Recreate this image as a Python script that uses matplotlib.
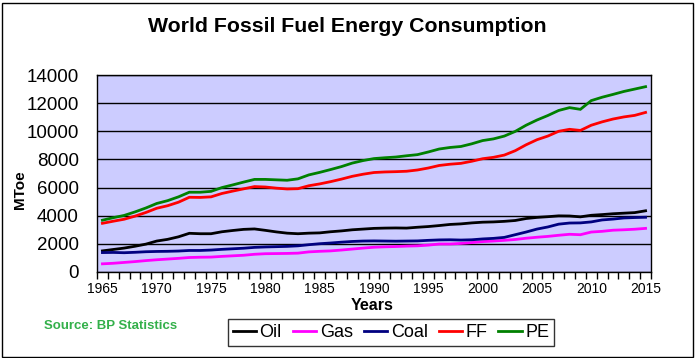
import matplotlib
matplotlib.use("Agg")
import matplotlib.pyplot as plt
from matplotlib.patches import Rectangle
from matplotlib.ticker import FixedLocator, NullFormatter
from matplotlib import font_manager

years = list(range(1965, 2016))

oil = [1500, 1600, 1700, 1830, 1980, 2200, 2320, 2500, 2750, 2720, 2720, 2860, 2950, 3030, 3060,
       2960, 2850, 2760, 2720, 2760, 2780, 2860, 2920, 3000, 3050, 3100, 3120, 3130, 3120, 3180,
       3230, 3300, 3380, 3420, 3490, 3540, 3560, 3600, 3660, 3800, 3880, 3930, 3990, 3980, 3920,
       4030, 4080, 4140, 4180, 4220, 4350]
gas = [580, 620, 680, 740, 810, 870, 920, 970, 1030, 1050, 1060, 1110, 1150, 1190, 1260,
       1300, 1310, 1320, 1340, 1430, 1470, 1500, 1560, 1630, 1700, 1760, 1790, 1810, 1840, 1860,
       1910, 1990, 1990, 2030, 2090, 2160, 2200, 2250, 2310, 2400, 2470, 2530, 2610, 2680, 2650,
       2840, 2890, 2970, 3000, 3040, 3100]
coal = [1380, 1390, 1370, 1400, 1440, 1460, 1470, 1490, 1530, 1530, 1560, 1610, 1650, 1690, 1750,
        1780, 1800, 1820, 1860, 1940, 2010, 2060, 2120, 2170, 2200, 2210, 2200, 2190, 2200, 2210,
        2250, 2280, 2290, 2270, 2290, 2350, 2390, 2460, 2650, 2840, 3050, 3200, 3400, 3480, 3490,
        3560, 3700, 3760, 3840, 3870, 3890]
ff = [3460, 3610, 3750, 3970, 4230, 4530, 4710, 4960, 5310, 5300, 5340, 5580, 5750, 5910, 6070,
      6040, 5960, 5900, 5920, 6130, 6260, 6420, 6600, 6800, 6950, 7070, 7110, 7130, 7160, 7250,
      7390, 7570, 7660, 7720, 7870, 8050, 8150, 8310, 8620, 9040, 9400, 9660, 10000, 10140, 10060,
      10430, 10670, 10870, 11020, 11130, 11340]
pe = [3680, 3860, 4020, 4270, 4550, 4870, 5070, 5340, 5670, 5670, 5730, 6000, 6190, 6390, 6580,
      6580, 6550, 6520, 6620, 6900, 7080, 7280, 7490, 7740, 7920, 8060, 8120, 8170, 8260, 8340,
      8530, 8740, 8850, 8920, 9110, 9340, 9460, 9660, 9990, 10430, 10800, 11120, 11480, 11680, 11560,
      12180, 12420, 12620, 12830, 13000, 13170]

series = [("Oil", oil, "black"), ("Gas", gas, "#ff00ff"), ("Coal", coal, "#000080"),
          ("FF", ff, "#ff0000"), ("PE", pe, "#008000")]

avail = {f.name for f in font_manager.fontManager.ttflist}
base = "Liberation Sans" if "Liberation Sans" in avail else "DejaVu Sans"
narrow = "Liberation Sans Narrow" if "Liberation Sans Narrow" in avail else base
plt.rcParams['font.family'] = [base, "DejaVu Sans"]

fig = plt.figure(figsize=(6.96, 3.58), dpi=100)
ax = fig.add_axes([97/696, (358-272)/358, 554/696, 197/358])
ax.set_facecolor("#ccccff")

for name, vals, col in series:
    ax.plot(years, vals, color=col, lw=2, label=name, solid_joinstyle='miter')

ax.set_xlim(1964.5, 2015.5)
ax.set_ylim(0, 14000)
ax.set_yticks(range(0, 14001, 2000))
ax.yaxis.grid(True, color="black", lw=1)
ax.set_axisbelow(True)
ax.tick_params(axis='y', length=0, labelsize=13.5, pad=13)

ax.set_xticks(list(range(1965, 2016, 5)))
ax.xaxis.set_minor_locator(FixedLocator([1964.5 + k for k in range(52)]))
ax.xaxis.set_minor_formatter(NullFormatter())
ax.tick_params(axis='x', which='major', length=0, labelsize=10, pad=7)
ax.tick_params(axis='x', which='minor', length=5, width=1, color='black')
for lab in ax.get_xticklabels():
    lab.set_family([narrow, "DejaVu Sans"])
for sp in ax.spines.values():
    sp.set_color("black")
    sp.set_linewidth(1)

fig.text(347/696, 1 - 27/358, "World Fossil Fuel Energy Consumption", ha='center', va='center',
         fontsize=15.3, fontweight='bold')
fig.text(20/696, 1 - 190/358, "MToe", rotation=90, ha='center', va='center',
         fontsize=11, fontweight='bold')
fig.text(372/696, 1 - 305/358, "Years", ha='center', va='center', fontsize=11.5, fontweight='bold')
fig.text(44/696, 1 - 326/358, "Source: BP Statistics", ha='left', va='center', fontsize=9.5,
         fontweight='bold', color="#33b04a", family=[narrow, "DejaVu Sans"])

leg = fig.legend(loc='center', bbox_to_anchor=(391/696, 1 - 332.5/358), ncol=5, frameon=True,
                 fancybox=False, edgecolor='black', fontsize=13, handlelength=1.3,
                 handletextpad=0.2, columnspacing=0.6, borderpad=0.25, borderaxespad=0)
leg.get_frame().set_linewidth(1)

fig.patches.append(Rectangle((2/696, 1.5/358), 691/696, 354/358, transform=fig.transFigure,
                             fill=False, edgecolor='black', lw=1))

fig.savefig("out.png", dpi=100)
